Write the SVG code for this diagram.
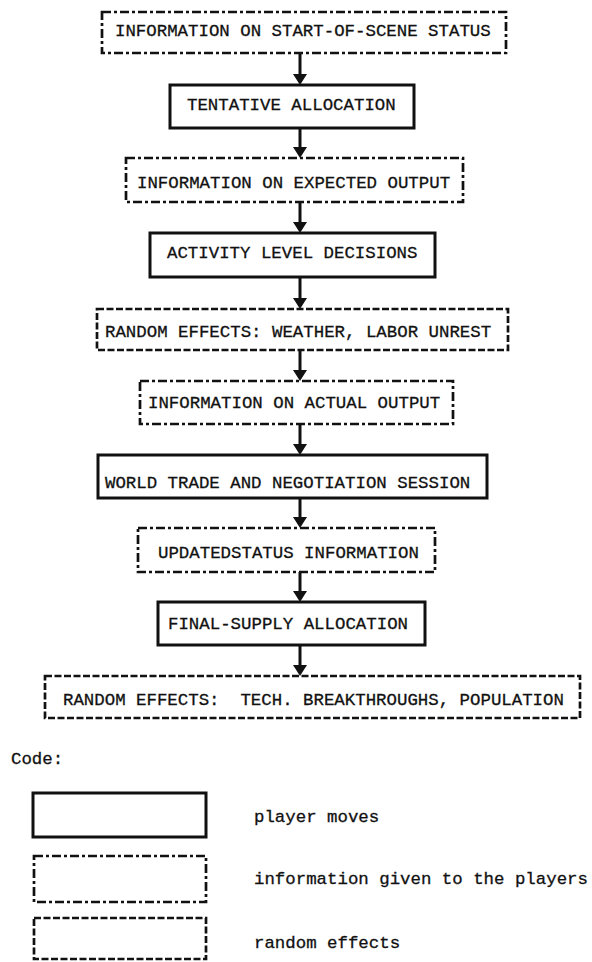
<svg xmlns="http://www.w3.org/2000/svg" width="592" height="962" viewBox="0 0 592 962">
  <style>
    .t { font-family: "Liberation Mono", "DejaVu Sans Mono", monospace; font-size: 17.4px; fill: #111; stroke: #111; stroke-width: 0.3; white-space: pre; }
    .solid { fill: none; stroke: #111; stroke-width: 3; }
    .info { fill: none; stroke: #111; stroke-width: 2.7; stroke-dasharray: 9 3 3 3; }
    .rand { fill: none; stroke: #111; stroke-width: 2.7; stroke-dasharray: 7 2.5; }
    .flow { stroke: #111; stroke-width: 3; fill: none; }
    .head { fill: #111; }
  </style>
  <rect width="592" height="962" fill="#fff"/>

  <!-- flow connectors: shaft plus filled head, all on x = 300 -->
  <g id="connectors">
    <line class="flow" x1="300" y1="53" x2="300" y2="76"/>
    <path class="head" d="M293,74 L307,74 L300,85 Z"/>
    <line class="flow" x1="300" y1="128" x2="300" y2="149"/>
    <path class="head" d="M293,147 L307,147 L300,158 Z"/>
    <line class="flow" x1="300" y1="202" x2="300" y2="224"/>
    <path class="head" d="M293,222 L307,222 L300,233 Z"/>
    <line class="flow" x1="300" y1="277" x2="300" y2="300"/>
    <path class="head" d="M293,298 L307,298 L300,309 Z"/>
    <line class="flow" x1="300" y1="350" x2="300" y2="372"/>
    <path class="head" d="M293,370 L307,370 L300,381 Z"/>
    <line class="flow" x1="300" y1="424" x2="300" y2="446"/>
    <path class="head" d="M293,444 L307,444 L300,455 Z"/>
    <line class="flow" x1="300" y1="498" x2="300" y2="519"/>
    <path class="head" d="M293,517 L307,517 L300,528 Z"/>
    <line class="flow" x1="300" y1="572" x2="300" y2="593"/>
    <path class="head" d="M293,591 L307,591 L300,602 Z"/>
    <line class="flow" x1="300" y1="645" x2="300" y2="667"/>
    <path class="head" d="M293,665 L307,665 L300,676 Z"/>
  </g>

  <g id="start-status">
    <rect class="info" x="102" y="12" width="404" height="41"/>
    <text class="t" x="115" y="36">INFORMATION ON START-OF-SCENE STATUS</text>
  </g>
  <g id="tentative-allocation">
    <rect class="solid" x="170" y="85" width="244" height="43"/>
    <text class="t" x="187" y="110">TENTATIVE ALLOCATION</text>
  </g>
  <g id="expected-output">
    <rect class="info" x="126" y="158" width="337" height="44"/>
    <text class="t" x="137" y="188">INFORMATION ON EXPECTED OUTPUT</text>
  </g>
  <g id="activity-decisions">
    <rect class="solid" x="150" y="233" width="285" height="44"/>
    <text class="t" x="167" y="258">ACTIVITY LEVEL DECISIONS</text>
  </g>
  <g id="weather-labor">
    <rect class="rand" x="97" y="309" width="411" height="41"/>
    <text class="t" x="105" y="337">RANDOM EFFECTS: WEATHER, LABOR UNREST</text>
  </g>
  <g id="actual-output">
    <rect class="info" x="140" y="381" width="313" height="43"/>
    <text class="t" x="148" y="408">INFORMATION ON ACTUAL OUTPUT</text>
  </g>
  <g id="trade-session">
    <rect class="solid" x="98" y="455" width="389" height="43"/>
    <text class="t" x="105" y="488">WORLD TRADE AND NEGOTIATION SESSION</text>
  </g>
  <g id="updated-status">
    <rect class="info" x="138" y="528" width="297" height="44"/>
    <text class="t" x="158" y="558">UPDATEDSTATUS INFORMATION</text>
  </g>
  <g id="final-supply">
    <rect class="solid" x="158" y="602" width="267" height="43"/>
    <text class="t" x="168" y="629">FINAL-SUPPLY ALLOCATION</text>
  </g>
  <g id="tech-population">
    <rect class="rand" x="45" y="676" width="535" height="42"/>
    <text class="t" x="63" y="705" xml:space="preserve">RANDOM EFFECTS:  TECH. BREAKTHROUGHS, POPULATION</text>
  </g>

  <!-- key -->
  <g id="legend">
    <text class="t" x="11" y="764">Code:</text>
    <rect class="solid" x="33" y="793" width="173" height="44"/>
    <text class="t" x="254" y="822">player moves</text>
    <rect class="info" x="34" y="856" width="172" height="46"/>
    <text class="t" x="254" y="884">information given to the players</text>
    <rect class="rand" x="34" y="918" width="172" height="41"/>
    <text class="t" x="254" y="948">random effects</text>
  </g>
</svg>
